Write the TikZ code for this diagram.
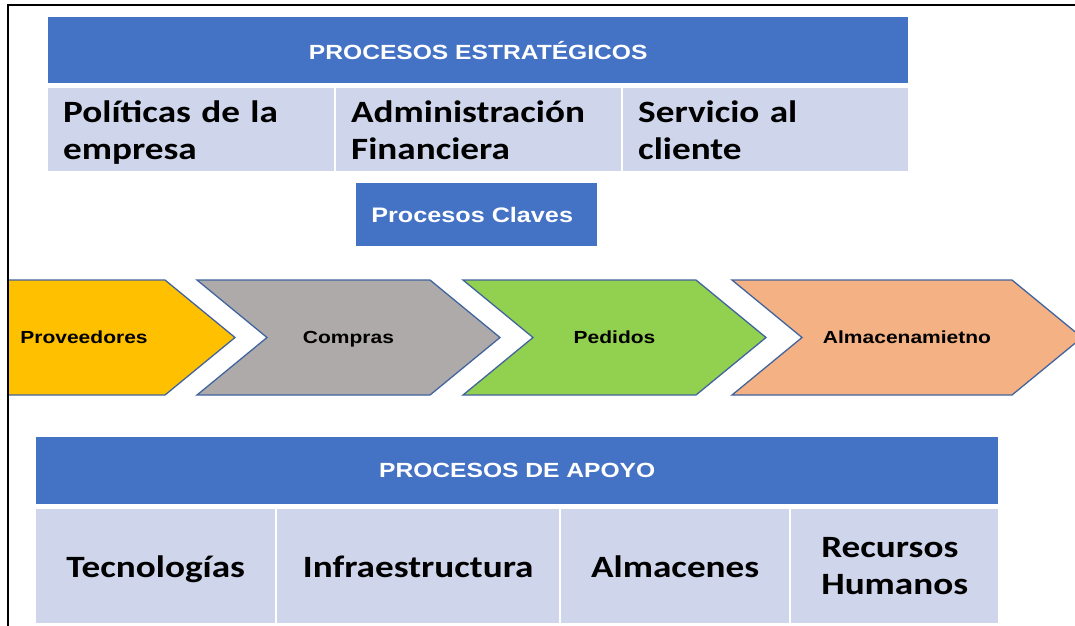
\documentclass[tikz,border=0pt]{standalone}
\usepackage{fontspec}
\setmainfont{Carlito}[FakeStretch=1.2]
\newfontfamily\arialfont{Liberation Sans}[FakeStretch=1.2]
\usepackage{xcolor}
\usepackage{tikz}
\usetikzlibrary{positioning}

\definecolor{officeblue}{HTML}{4472C4}
\definecolor{cellblue}{HTML}{CFD5EA}
\definecolor{edgeblue}{HTML}{41649E}
\definecolor{provgold}{HTML}{FFC000}
\definecolor{compgray}{HTML}{AEAAAA}
\definecolor{pedgreen}{HTML}{92D050}
\definecolor{almorange}{HTML}{F4B183}

\begin{document}
\begin{tikzpicture}[
    x=1pt, y=-1pt,
    headbar/.style = {
        rectangle,
        fill=officeblue,
        anchor=north west,
        inner sep=0pt,
        text=white,
        font=\arialfont\bfseries\fontsize{20.5}{24}\selectfont
    },
    cell/.style = {
        rectangle,
        fill=cellblue,
        anchor=north west,
        inner sep=0pt,
        text=black,
        font=\bfseries\fontsize{31}{37}\selectfont
    },
    topcell/.style = {cell, inner xsep=15pt, align=left, text height=26pt, text depth=41pt},
    lowcell/.style = {cell, align=left},
    oneline/.style = {text height=26pt, text depth=4pt},
    chevron/.style = {draw=edgeblue, line width=1.3pt, line join=miter},
    chevlabel/.style = {font=\arialfont\bfseries\fontsize{17.5}{20}\selectfont, text=black, inner sep=0pt, text height=13pt, text depth=2pt}
]

\useasboundingbox (0,0) rectangle (1075,625);
\clip (0,0) rectangle (1075,625);

% Define chevron sizes
\def\chevtop{280}
\def\chevbot{395}
\def\chevmid{337.5}
\def\chevtip{70}

% Strategic processes
\node[headbar, minimum width=860pt, minimum height=66pt] (strategic) at (48,17) {PROCESOS ESTRATÉGICOS};

\node[topcell, text width=256pt, minimum height=83pt] (politicas) at (48,88) {Políticas de la\\empresa};
\node[topcell, text width=255pt, minimum height=83pt] (finanzas) at (336,88) {Administración\\Financiera};
\node[topcell, text width=255pt, minimum height=83pt] (servicio) at (623,88) {Servicio al\\cliente};

% Key processes
\node[headbar, minimum width=241pt, minimum height=63pt, font=\arialfont\bfseries\fontsize{21}{24}\selectfont] (claves) at (356,183) {Procesos Claves\hspace*{9pt}};

% Chevrons (cut at the frame)
\begin{scope}
\clip (8,0) rectangle (1075,625);
\draw[chevron, fill=provgold]
    (-67,\chevtop) -- (165,\chevtop) -- (165+\chevtip,\chevmid) -- (165,\chevbot) -- (-67,\chevbot) -- cycle;
\draw[chevron, fill=compgray]
    (197,\chevtop) -- (430,\chevtop) -- (430+\chevtip,\chevmid) -- (430,\chevbot) -- (197,\chevbot) -- (197+\chevtip,\chevmid) -- cycle;
\draw[chevron, fill=pedgreen]
    (463,\chevtop) -- (696,\chevtop) -- (696+\chevtip,\chevmid) -- (696,\chevbot) -- (463,\chevbot) -- (463+\chevtip,\chevmid) -- cycle;
\draw[chevron, fill=almorange]
    (732,\chevtop) -- (1012,\chevtop) -- (1012+\chevtip,\chevmid) -- (1012,\chevbot) -- (732,\chevbot) -- (732+\chevtip,\chevmid) -- cycle;
\end{scope}

\node[chevlabel] (proveedores) at (84,\chevmid) {Proveedores};
\node[chevlabel] (compras) at (348.5,\chevmid) {Compras};
\node[chevlabel] (pedidos) at (614.5,\chevmid) {Pedidos};
\node[chevlabel] (almacenamiento) at (907,\chevmid) {Almacenamietno};

% Support processes
\node[headbar, minimum width=962pt, minimum height=67pt] (apoyo) at (36,437) {PROCESOS DE APOYO};

\node[lowcell, oneline, minimum width=239pt, minimum height=114pt] (tecnologias) at (36,509) {Tecnologías};
\node[lowcell, oneline, minimum width=282pt, minimum height=114pt] (infra) at (277,509) {Infraestructura};
\node[lowcell, oneline, minimum width=228pt, minimum height=114pt] (almacenes) at (561,509) {Almacenes};
\node[lowcell, minimum width=207pt, minimum height=114pt] (rrhh) at (791,509) {Recursos\\Humanos};

% Frame
\draw[black, line width=2pt] (8,640) -- (8,5) -- (1090,5);

\end{tikzpicture}
\end{document}
